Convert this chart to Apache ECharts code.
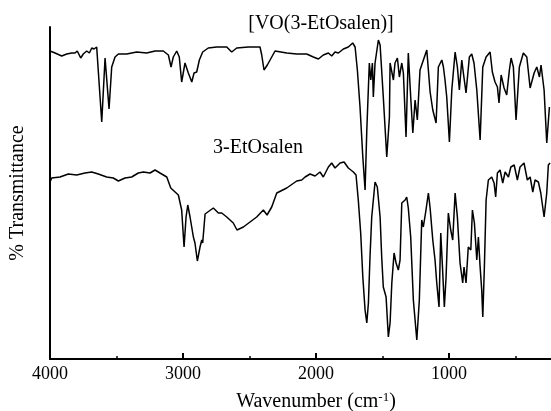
<!DOCTYPE html>
<html>
<head>
<meta charset="utf-8">
<script src="https://cdn.jsdelivr.net/npm/echarts@6/dist/echarts.min.js"></script>
<style>
html,body{margin:0;padding:0;background:#fff;}
#chart{width:551px;height:411px;}
</style>
</head>
<body>
<div id="chart"></div>
<script>
// Wavenumbers (cm-1) and transmittance (arbitrary units)
const complexWavenumber = [4000,3962,3912,3874,3837,3812,3795,3769,3750,3724,3704,3686,3669,3649,3637,3611,3586,3556,3536,3511,3486,3423,3348,3273,3210,3148,3110,3090,3073,3047,3028,3010,2985,2960,2934,2917,2897,2877,2852,2810,2746,2671,2634,2596,2509,2421,2408,2391,2366,2308,2220,2145,2070,2020,1982,1945,1907,1882,1857,1832,1794,1757,1724,1706,1689,1669,1648,1631,1618,1599,1588,1576,1569,1556,1531,1518,1494,1468,1448,1443,1418,1406,1388,1373,1355,1343,1323,1306,1288,1272,1255,1238,1218,1167,1142,1122,1097,1080,1054,1042,1030,1017,997,979,954,937,922,904,892,872,847,829,812,791,766,746,721,691,674,654,636,624,608,586,566,546,533,516,496,471,441,415,390,360,340,320,308,285,265,245];
const complexT = [308,306,303,305,306,306,308,301,305,308,306,311,310,312,310,237,301,250,292,302,305,305,307,306,308,308,304,292,302,308,302,277,296,286,277,286,287,299,307,311,312,312,307,311,312,312,304,289,294,308,306,305,305,302,300,304,306,303,307,306,310,312,316,312,289,252,202,169,229,296,279,296,262,296,319,314,262,202,242,296,279,296,301,282,296,286,222,306,262,226,259,239,289,309,267,249,236,292,299,292,279,262,217,269,307,292,269,299,286,266,302,305,296,269,219,292,302,307,287,277,272,256,284,271,264,289,301,292,239,292,306,302,271,286,292,282,294,269,216,252];

const ligandWavenumber = [4000,3987,3925,3862,3799,3737,3686,3637,3574,3524,3486,3436,3386,3336,3298,3248,3210,3173,3122,3092,3035,3010,2992,2977,2964,2947,2922,2910,2892,2872,2859,2852,2834,2772,2734,2709,2671,2622,2594,2546,2496,2446,2396,2368,2333,2295,2220,2145,2107,2082,2045,2007,1970,1945,1907,1882,1857,1819,1789,1757,1719,1699,1682,1664,1648,1631,1618,1606,1594,1581,1556,1539,1518,1506,1494,1473,1456,1443,1430,1413,1398,1381,1368,1355,1330,1318,1306,1288,1268,1242,1223,1205,1193,1173,1155,1142,1122,1105,1092,1075,1062,1048,1035,1022,1005,987,972,954,937,917,897,887,872,855,836,824,809,791,779,766,754,746,734,721,704,679,661,649,636,616,596,578,553,535,510,486,466,436,411,390,370,353,328,310,285,265,253,240];
const ligandT = [177,181,182,185,184,186,187,185,182,181,178,181,182,186,187,186,189,186,182,171,164,149,112,142,154,142,122,116,98,112,119,116,145,151,146,146,142,136,129,132,137,142,149,144,152,166,171,178,179,182,185,183,187,182,192,196,191,196,197,191,187,184,159,126,82,49,36,56,102,142,177,172,142,102,72,62,22,36,76,106,96,89,99,156,159,162,151,122,59,19,59,139,132,149,166,151,119,99,76,52,126,89,52,82,146,129,119,166,142,96,76,92,76,112,109,149,136,99,122,92,69,42,92,159,179,182,176,162,186,189,176,187,182,192,194,179,192,196,179,182,167,179,177,166,142,166,194,196];

const xTickLabels = ['4000','3000','2000','1000'];
const seriesNames = ['[VO(3-EtOsalen)]','3-EtOsalen'];

function pairs(xs, ys){ return xs.map((x,i)=>[x, ys[i]]); }

const chart = echarts.init(document.getElementById('chart'));
const font = 'Liberation Serif';
chart.setOption({
  animation:false,
  backgroundColor:'#fff',
  grid:{left:50, top:27, width:532, height:332, outerBoundsMode:'none', containLabel:false},
  xAxis:{
    type:'value', inverse:true, min:0, max:4000, interval:1000,
    axisLine:{show:true, onZero:false, lineStyle:{color:'#000', width:2}},
    axisTick:{show:true, inside:true, length:6, lineStyle:{color:'#000', width:2}},
    minorTick:{show:true, splitNumber:2, length:3, lineStyle:{color:'#000', width:1.5}},
    splitLine:{show:false},
    axisLabel:{
      color:'#000', fontFamily:font, fontSize:18, margin:6,
      formatter:function(v){ const s=String(v); return xTickLabels.indexOf(s)>=0 ? s : ''; }
    },
    name:'Wavenumber (cm{sup|-1})',
    nameLocation:'middle', nameGap:32,
    nameTextStyle:{color:'#000', fontFamily:font, fontSize:20,
      rich:{sup:{fontSize:13, fontFamily:font, color:'#000', padding:[0,0,9,0]}}}
  },
  yAxis:{
    type:'value', min:0, max:332,
    axisLine:{show:true, onZero:false, lineStyle:{color:'#000', width:2}},
    axisTick:{show:false}, axisLabel:{show:false}, splitLine:{show:false},
    name:'% Transmittance', nameLocation:'middle', nameRotate:90, nameGap:22,
    nameTextStyle:{color:'#000', fontFamily:font, fontSize:20}
  },
  graphic:[
    {type:'text', x:321, y:24, style:{text:seriesNames[0], fill:'#000', font:'20px "Liberation Serif"', textAlign:'center', textVerticalAlign:'middle'}},
    {type:'text', x:258, y:148, style:{text:seriesNames[1], fill:'#000', font:'20px "Liberation Serif"', textAlign:'center', textVerticalAlign:'middle'}}
  ],
  series:[
    {name:seriesNames[0], type:'line', data:pairs(complexWavenumber, complexT), showSymbol:false, symbol:'none', smooth:false,
     lineStyle:{color:'#000', width:1.5}, clip:true},
    {name:seriesNames[1], type:'line', data:pairs(ligandWavenumber, ligandT), showSymbol:false, symbol:'none', smooth:false,
     lineStyle:{color:'#000', width:1.5}, clip:true}
  ]
});
</script>
</body>
</html>
